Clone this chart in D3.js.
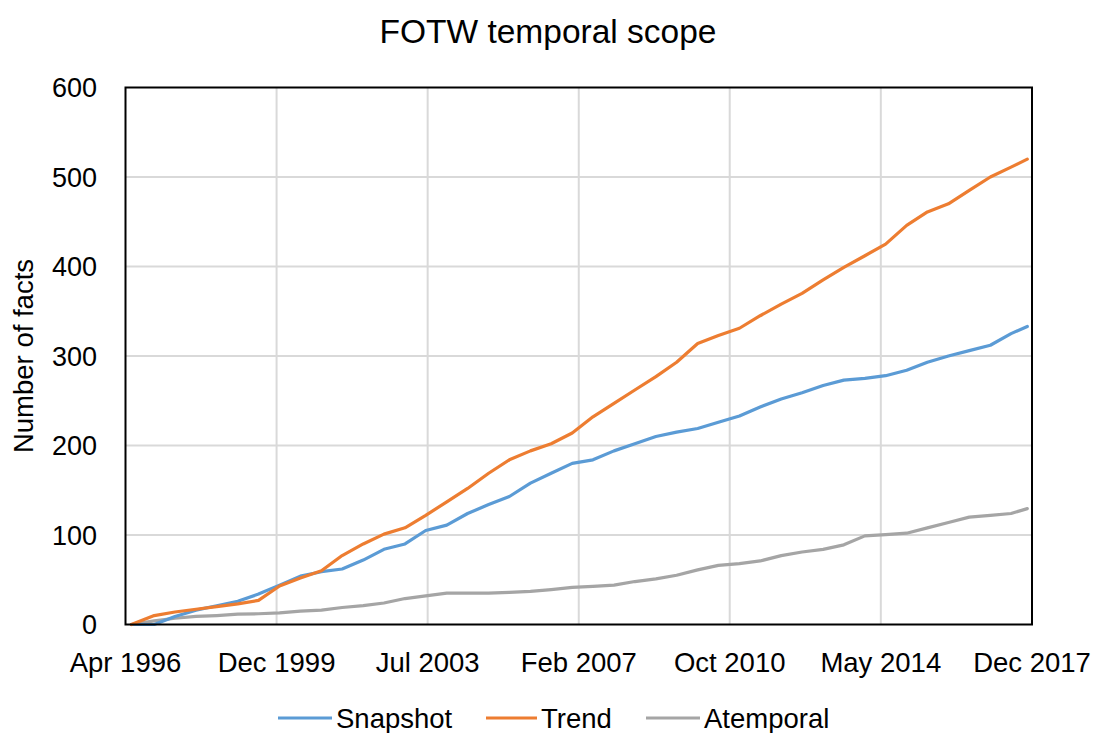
<!DOCTYPE html>
<html>
<head>
<meta charset="utf-8">
<script src="https://cdn.jsdelivr.net/npm/d3@7"></script>
<style>
  html, body { margin: 0; padding: 0; background: #fff; }
  svg { display: block; }
  text { font-family: "Liberation Sans", Arial, sans-serif; fill: #000; }
</style>
</head>
<body>
<svg id="chart" width="1095" height="733"></svg>
<script>
// ---- data ----
const dates = [
  "1996-06-15","1997-01-01","1997-07-01","1998-01-01","1998-07-01","1999-01-01","1999-07-01",
  "2000-01-01","2000-07-01","2001-01-01","2001-07-01","2002-01-01","2002-07-01","2003-01-01",
  "2003-07-01","2004-01-01","2004-07-01","2005-01-01","2005-07-01","2006-01-01","2006-07-01",
  "2007-01-01","2007-07-01","2008-01-01","2008-07-01","2009-01-01","2009-07-01","2010-01-01",
  "2010-07-01","2011-01-01","2011-07-01","2012-01-01","2012-07-01","2013-01-01","2013-07-01",
  "2014-01-01","2014-07-01","2015-01-01","2015-07-01","2016-01-01","2016-07-01","2017-01-01",
  "2017-07-01","2017-11-20"
];
const snapshot = [
  0, 0, 9, 16, 21, 26, 34,
  44, 54, 59, 62, 72, 84, 90,
  105, 111, 124, 134, 143, 158, 169,
  180, 184, 194, 202, 210, 215, 219,
  226, 233, 243, 252, 259, 267, 273,
  275, 278, 284, 293, 300, 306, 312,
  325, 333
];
const trend = [
  0, 10, 14, 17, 20, 23, 27,
  43, 52, 60, 77, 90, 101, 108,
  122, 137, 152, 169, 184, 194, 202,
  214, 232, 247, 262, 277, 293, 314,
  323, 331, 345, 358, 370, 385, 399,
  412, 425, 446, 461, 470, 485, 500,
  511, 520
];
const atemporal = [
  0, 4, 7, 9, 10, 11.5, 12,
  13, 15, 16, 19, 21, 24, 29,
  32, 35, 35, 35, 36, 37, 39,
  41.5, 42.5, 44, 48, 51, 55, 61,
  66, 68, 71, 77, 81, 84, 89,
  99, 100.5, 102, 108, 114, 120, 122,
  124, 129.5
];
const seriesNames = ["Snapshot", "Trend", "Atemporal"];
const seriesColors = ["#5b9bd5", "#ed7d31", "#a5a5a5"];
const xTickDates = ["1996-04-25","1999-12-06","2003-07-18","2007-02-27","2010-10-08","2014-05-20","2017-12-31"];
const xTickLabels = ["Apr 1996","Dec 1999","Jul 2003","Feb 2007","Oct 2010","May 2014","Dec 2017"];
const yTicks = [0, 100, 200, 300, 400, 500, 600];
const titleText = "FOTW temporal scope";
const yAxisTitle = "Number of facts";

// ---- layout ----
const parse = d3.timeParse("%Y-%m-%d");
const plot = { left: 125.5, right: 1032, top: 87.5, bottom: 624.5 };

const svg = d3.select("#chart");

const x = d3.scaleTime()
  .domain([parse(xTickDates[0]), parse(xTickDates[xTickDates.length - 1])])
  .range([plot.left, plot.right]);
const y = d3.scaleLinear().domain([0, 600]).range([plot.bottom, plot.top]);

// gridlines
const grid = svg.append("g");
grid.selectAll("line.h").data(yTicks.slice(1, -1)).join("line")
  .attr("x1", plot.left).attr("x2", plot.right)
  .attr("y1", d => y(d)).attr("y2", d => y(d))
  .attr("stroke", "#d9d9d9").attr("stroke-width", 2);
grid.selectAll("line.v").data(xTickDates.slice(1, -1)).join("line")
  .attr("x1", d => x(parse(d))).attr("x2", d => x(parse(d)))
  .attr("y1", plot.top).attr("y2", plot.bottom)
  .attr("stroke", "#d9d9d9").attr("stroke-width", 2);

// lines
const allSeries = [snapshot, trend, atemporal];
const line = d3.line()
  .x((d, i) => x(parse(dates[i])))
  .y(d => y(d))
  .curve(d3.curveLinear);

const order = [2, 0, 1];
order.forEach(k => {
  svg.append("path")
    .datum(allSeries[k])
    .attr("d", line)
    .attr("fill", "none")
    .attr("stroke", seriesColors[k])
    .attr("stroke-width", 3.2)
    .attr("stroke-linejoin", "round")
    .attr("stroke-linecap", "round");
});

// plot border
svg.append("rect")
  .attr("x", plot.left).attr("y", plot.top)
  .attr("width", plot.right - plot.left).attr("height", plot.bottom - plot.top)
  .attr("fill", "none").attr("stroke", "#000").attr("stroke-width", 2);

// y axis labels
svg.append("g").selectAll("text").data(yTicks).join("text")
  .attr("x", 97).attr("y", d => y(d))
  .attr("dy", "0.36em")
  .attr("text-anchor", "end")
  .attr("font-size", 27)
  .text(d => d);

// x axis labels
svg.append("g").selectAll("text").data(xTickDates).join("text")
  .attr("x", d => x(parse(d))).attr("y", 672)
  .attr("text-anchor", "middle")
  .attr("font-size", 27.5)
  .text((d, i) => xTickLabels[i]);

// title
svg.append("text")
  .attr("x", 548).attr("y", 43)
  .attr("text-anchor", "middle")
  .attr("font-size", 33.5)
  .text(titleText);

// y axis title
svg.append("text")
  .attr("transform", "translate(33,356) rotate(-90)")
  .attr("text-anchor", "middle")
  .attr("font-size", 27.5)
  .text(yAxisTitle);

// legend
const legendItems = [
  { x1: 278, x2: 332, tx: 336 },
  { x1: 486, x2: 537, tx: 541 },
  { x1: 646, x2: 700, tx: 704 }
];
const lg = svg.append("g");
seriesNames.forEach((name, k) => {
  const it = legendItems[k];
  lg.append("line")
    .attr("x1", it.x1).attr("x2", it.x2)
    .attr("y1", 718).attr("y2", 718)
    .attr("stroke", seriesColors[k]).attr("stroke-width", 3.2);
  lg.append("text")
    .attr("x", it.tx).attr("y", 718).attr("dy", "0.36em")
    .attr("font-size", 27.5)
    .text(name);
});
</script>
</body>
</html>
